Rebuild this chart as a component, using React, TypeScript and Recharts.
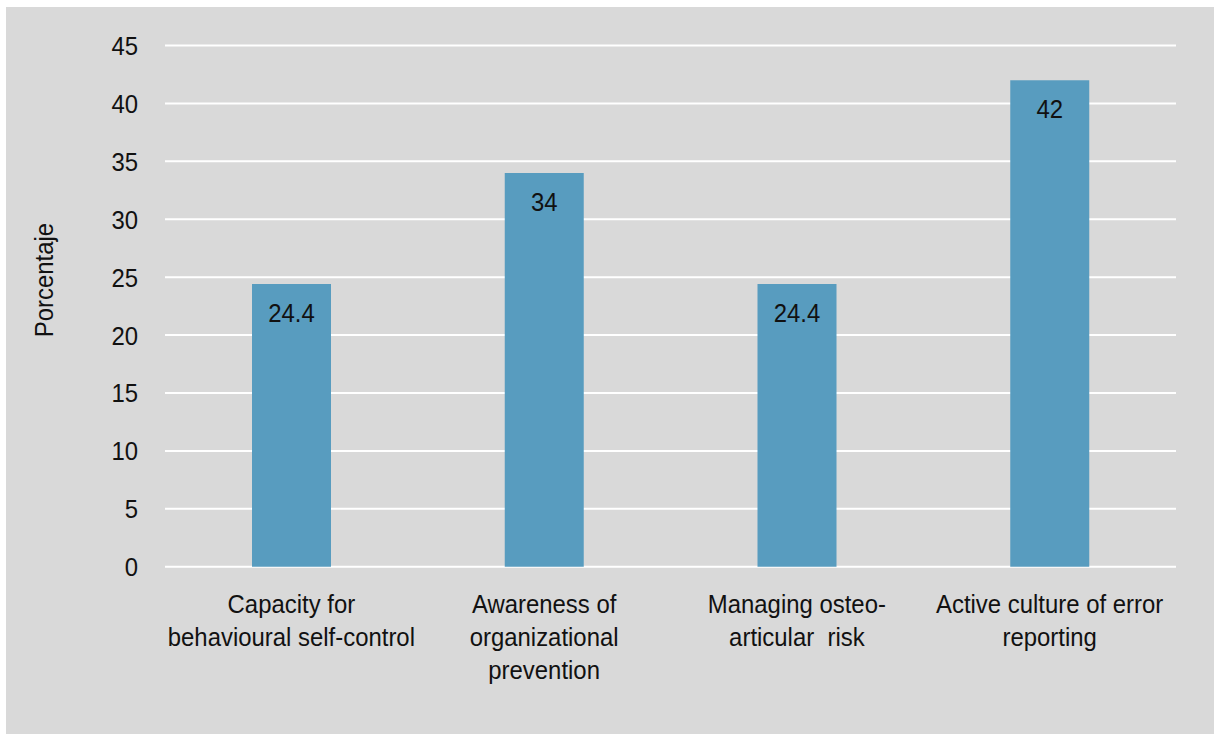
import React from 'react';
import { BarChart, Bar, XAxis, YAxis, CartesianGrid, LabelList } from 'recharts';

// Share of respondents per dimension (%)
const categories: string[] = [
  'Capacity for\nbehavioural self-control',
  'Awareness of\norganizational\nprevention',
  'Managing osteo-\narticular  risk',
  'Active culture of error\nreporting',
];
const values: number[] = [24.4, 34, 24.4, 42];
const yTicks: number[] = [0, 5, 10, 15, 20, 25, 30, 35, 40, 45];
const yAxisTitle = 'Porcentaje';

const data = categories.map((name, i) => ({ name, value: values[i] }));

const FONT = '"Liberation Sans", Arial, sans-serif';
const FS = 26;
// horizontal squeeze giving the condensed look of the labels
const SX = 0.92;
const TEXT = '#111111';
const BAR = '#589CBF';
const BG = '#D9D9D9';

const squeeze = (x: number, y: number) =>
  `translate(${x},${y}) scale(${SX},1) translate(${-x},${-y})`;

const CategoryTick = (props: any) => {
  const { x, y, payload } = props;
  const lines = String(payload.value).split('\n');
  return (
    <text
      x={x}
      y={y + 46}
      transform={squeeze(x, y)}
      textAnchor="middle"
      fill={TEXT}
      fontSize={FS}
      fontFamily={FONT}
      style={{ whiteSpace: 'pre' }}
    >
      {lines.map((line, i) => (
        <tspan key={i} x={x} dy={i === 0 ? 0 : 33}>
          {line}
        </tspan>
      ))}
    </text>
  );
};

const ValueTick = (props: any) => {
  const { x, y, payload } = props;
  return (
    <text
      x={x}
      y={y + 9.5}
      transform={squeeze(x, y)}
      textAnchor="end"
      fill={TEXT}
      fontSize={FS}
      fontFamily={FONT}
    >
      {payload.value}
    </text>
  );
};

const BarValue = (props: any) => {
  const { x, y, width, value } = props;
  const cx = Number(x) + Number(width) / 2;
  return (
    <text
      x={cx}
      y={Number(y) + 38}
      transform={squeeze(cx, Number(y))}
      textAnchor="middle"
      fill={TEXT}
      fontSize={FS}
      fontFamily={FONT}
    >
      {value}
    </text>
  );
};

const AxisTitle = () => {
  const cx = 38;
  const cy = 273;
  return (
    <text
      x={cx}
      y={cy}
      transform={`translate(${cx},${cy}) rotate(-90) scale(${SX},1) translate(${-cx},${-cy})`}
      textAnchor="middle"
      dominantBaseline="central"
      fill={TEXT}
      fontSize={FS}
      fontFamily={FONT}
    >
      {yAxisTitle}
    </text>
  );
};

export default function App() {
  return (
    <div style={{ position: 'absolute', left: 0, top: 0, width: 1216, height: 734, background: '#ffffff' }}>
      <div style={{ position: 'absolute', left: 6, top: 7, width: 1208, height: 727, background: BG }}>
        <BarChart
          width={1208}
          height={727}
          data={data}
          margin={{ top: 38.5, right: 38, bottom: 137.3, left: 0 }}
        >
          <CartesianGrid vertical={false} stroke="#ffffff" strokeWidth={2} />
          <XAxis
            dataKey="name"
            height={30}
            axisLine={false}
            tickLine={false}
            tickSize={0}
            tickMargin={0}
            interval={0}
            tick={<CategoryTick />}
          />
          <YAxis
            width={159}
            domain={[0, 45]}
            ticks={yTicks}
            axisLine={false}
            tickLine={false}
            tickSize={0}
            tickMargin={27}
            tick={<ValueTick />}
            label={{ content: <AxisTitle /> }}
          />
          <Bar dataKey="value" fill={BAR} barSize={79} isAnimationActive={false}>
            <LabelList dataKey="value" content={<BarValue />} />
          </Bar>
        </BarChart>
      </div>
    </div>
  );
}
